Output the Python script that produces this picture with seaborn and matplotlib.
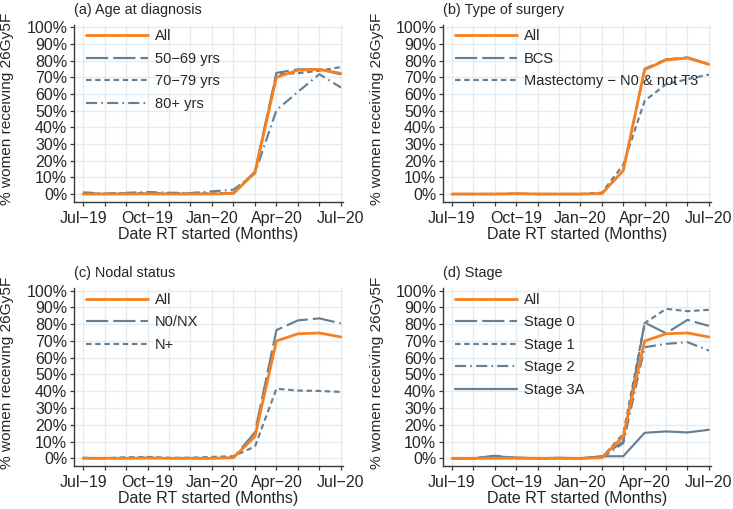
import matplotlib
matplotlib.use("Agg")
import matplotlib.pyplot as plt
import matplotlib.ticker as mticker
import pandas as pd
import seaborn as sns

# months Jul-19 .. Jul-20
months = ["Jul−19", "Aug−19", "Sep−19", "Oct−19", "Nov−19", "Dec−19", "Jan−20",
          "Feb−20", "Mar−20", "Apr−20", "May−20", "Jun−20", "Jul−20"]

# % women receiving 26Gy5F
all_women = [0, 0, 0, 0.1, 0, 0, 0, 0.3, 13.0, 70.0, 74.3, 74.8, 72.4]
all_surgery = [0, 0, 0, 0.2, 0, 0, 0, 0.2, 14.2, 74.6, 80.4, 81.6, 77.8]

age_50_69 = [0.2, 0, 0.2, 0.3, 0.1, 0.1, 0.2, 0.5, 13.5, 72.7, 74.8, 74.9, 71.8]
age_70_79 = [0.5, 0, 0.5, 0.5, 0.3, 0.3, 0.3, 0.8, 12.5, 72.0, 72.5, 74.0, 76.2]
age_80_plus = [1.0, 0.3, 0.7, 1.2, 0.8, 0.6, 1.6, 2.6, 12.4, 50.3, 61.3, 71.9, 63.9]

bcs = [0, 0, 0, 0.2, 0, 0, 0, 0.2, 14.0, 75.2, 80.8, 82.0, 78.0]
mastectomy = [0, 0, 0, 0, 0, 0, 0, 0.8, 17.6, 55.9, 65.9, 68.9, 71.7]

n0_nx = [0, 0, 0.1, 0.3, 0, 0, 0, 0.3, 15.5, 76.5, 82.3, 83.5, 80.5]
n_pos = [0.3, 0, 0.6, 0.8, 0.3, 0.3, 0.8, 1.2, 7.0, 41.5, 40.4, 40.2, 39.6]

stage_0 = [0, 0, 1.5, 0.3, 0, 0, 0, 1.0, 10.0, 81.0, 74.6, 82.6, 79.0]
stage_1 = [0, 0, 0.2, 0, 0, 0, 0, 0.5, 14.5, 80.6, 89.2, 87.8, 88.6]
stage_2 = [0, 0, 0.5, 0, 0, 0, 0, 0.2, 9.0, 66.3, 68.3, 69.3, 64.3]
stage_3a = [0, 0, 1.2, 0.3, 0, 0.3, 0, 1.2, 1.2, 15.2, 16.0, 15.4, 17.0]

ORANGE = "#f7811e"
GREY = "#667f93"
STYLES = ["", (16, 3.6), (4, 2.6), (8, 3, 1.2, 3), ""]


def panel(ax, title, names, values):
    df = pd.concat([pd.DataFrame({"month": range(len(months)), "pct": v, "group": n})
                    for n, v in zip(names, values)])
    pal = {n: (ORANGE if i == 0 else GREY) for i, n in enumerate(names)}
    dsh = {n: STYLES[i] for i, n in enumerate(names)}
    lws = {n: (2.0 if i == 0 else 1.55) for i, n in enumerate(names)}
    sns.lineplot(data=df, x="month", y="pct", hue="group", style="group", size="group",
                 hue_order=names, style_order=names, size_order=names,
                 palette=pal, dashes=dsh, sizes=lws, ax=ax)
    # orange on top
    for line in ax.lines:
        if line.get_color() == ORANGE:
            line.set_zorder(5)
    sns.move_legend(ax, "upper left", bbox_to_anchor=(0.045, 0.975), frameon=False,
                    title=None, fontsize=10.5, handlelength=4.25, handletextpad=0.45,
                    labelspacing=0.58, borderpad=0, borderaxespad=0)

    ax.set_xlim(-0.42, 12.1)
    ax.set_ylim(-4.8, 101.4)
    ax.set_xticks(range(len(months)))
    ax.set_xticklabels([m if i % 3 == 0 else "" for i, m in enumerate(months)])
    ax.set_yticks(range(0, 101, 10))
    ax.yaxis.set_major_formatter(mticker.PercentFormatter(decimals=0))
    ax.set_xlabel("Date RT started (Months)", fontsize=11.5, labelpad=1)
    ax.set_ylabel("% women receiving 26Gy5F", fontsize=11.1)
    ax.yaxis.set_label_coords(-0.222, 0.528)
    ax.set_title(title, loc="left", fontsize=10.4, pad=8)
    for s in ["top", "right"]:
        ax.spines[s].set_visible(False)
    for s in ["left", "bottom"]:
        ax.spines[s].set_color("#3a3a3a")
        ax.spines[s].set_linewidth(1.0)
    ax.tick_params(axis="both", labelsize=11.5, length=2.8, width=0.9,
                   color="#3a3a3a", direction="out")
    ax.tick_params(axis="x", pad=3.5)
    ax.tick_params(axis="y", pad=2)
    ax.grid(True, color="#e3edf1", linewidth=1.0)


sns.set_theme(style="whitegrid")
plt.rcParams["font.family"] = ["Liberation Sans", "DejaVu Sans"]
plt.rcParams["lines.scale_dashes"] = False
plt.rcParams["xtick.bottom"] = True
plt.rcParams["ytick.left"] = True

fig = plt.figure(figsize=(7.33, 5.09), dpi=100)
ax_a = fig.add_axes([0.101, 0.6031, 0.367, 0.3477])
ax_b = fig.add_axes([0.6044, 0.6031, 0.3656, 0.3477])
ax_c = fig.add_axes([0.101, 0.0839, 0.367, 0.3495])
ax_d = fig.add_axes([0.6044, 0.0839, 0.3656, 0.3495])

panel(ax_a, "(a) Age at diagnosis", ["All", "50−69 yrs", "70−79 yrs", "80+ yrs"],
      [all_women, age_50_69, age_70_79, age_80_plus])
panel(ax_b, "(b) Type of surgery", ["All", "BCS", "Mastectomy − N0 & not T3"],
      [all_surgery, bcs, mastectomy])
panel(ax_c, "(c) Nodal status", ["All", "N0/NX", "N+"],
      [all_women, n0_nx, n_pos])
panel(ax_d, "(d) Stage", ["All", "Stage 0", "Stage 1", "Stage 2", "Stage 3A"],
      [all_women, stage_0, stage_1, stage_2, stage_3a])

fig.savefig("out.png", dpi=100)
plt.close(fig)
